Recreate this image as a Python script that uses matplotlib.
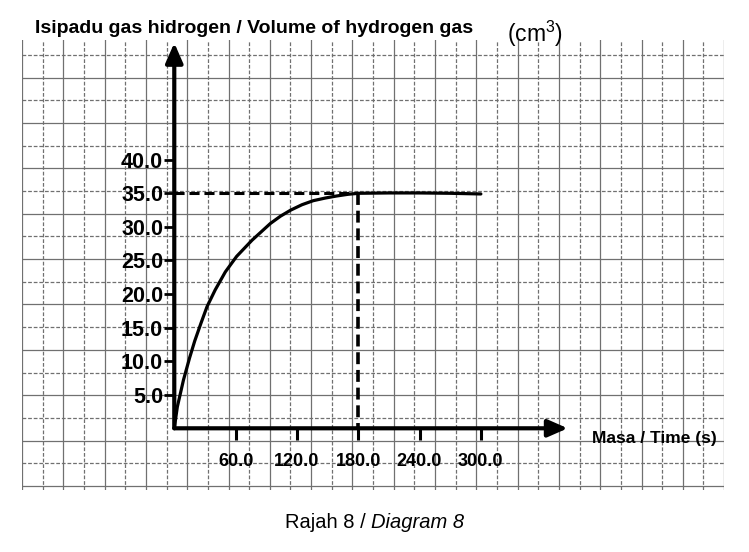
import matplotlib
matplotlib.use('Agg')
import matplotlib.pyplot as plt

plt.rcParams['font.family'] = ['Liberation Sans', 'DejaVu Sans']
plt.rcParams['mathtext.fontset'] = 'custom'
plt.rcParams['mathtext.rm'] = 'Liberation Sans'
plt.rcParams['mathtext.it'] = 'Liberation Sans:italic'

# Data dibaca dari graf (masa dalam s, isipadu dalam cm3)
masa = [0, 3, 9, 15, 20, 26, 32, 40, 50, 61, 76, 94, 104, 114, 125, 136,
        148, 159, 170, 180, 210, 240, 270, 300]
isipadu = [0, 3.2, 7.2, 10.5, 13.0, 15.6, 18.1, 20.6, 23.3, 25.6, 28.0,
           30.5, 31.6, 32.5, 33.3, 33.9, 34.3, 34.6, 34.85, 35.0, 35.05,
           35.05, 35.0, 34.9]
y_ticks = [5, 10, 15, 20, 25, 30, 35, 40]
x_ticks = [60, 120, 180, 240, 300]
masa_akhir = 180
isipadu_akhir = 35

W, H = 749, 552
fig = plt.figure(figsize=(W / 100, H / 100), dpi=100)
ax = fig.add_axes([22 / W, 62 / H, 702 / W, 450 / H])
ax.set_xlim(-149.0, 537.9)
ax.set_ylim(-9.19, 57.83)

# kertas graf
for i in range(35):
    xf = i * 20.65 / 702
    ls = '-' if i % 2 == 0 else (0, (3, 1.5))
    ax.plot([xf, xf], [0, 1], transform=ax.transAxes, color='#707070',
            lw=0.9, ls=ls, zorder=0)
for i in range(20):
    yf = (490 - (55 + i * 22.68)) / 450
    ls = '-' if i % 2 == 1 else (0, (3, 1.5))
    ax.plot([0, 1], [yf, yf], transform=ax.transAxes, color='#707070',
            lw=0.9, ls=ls, zorder=0)

# paksi dengan anak panah
for s in ax.spines.values():
    s.set_visible(False)
ax.spines['left'].set_position(('data', 0))
ax.spines['bottom'].set_position(('data', 0))
arrow = dict(arrowstyle='-|>,head_length=0.8,head_width=0.35', lw=3,
             color='black', mutation_scale=15, shrinkA=0, shrinkB=0)
ax.annotate('', xy=(0, 57.4), xytext=(0, 0), arrowprops=arrow, zorder=3)
ax.annotate('', xy=(385, 0), xytext=(0, 0), arrowprops=arrow, zorder=3)

ax.set_yticks(y_ticks, labels=['{:.1f}'.format(v) for v in y_ticks])
ax.set_xticks(x_ticks, labels=['{:.1f}'.format(v) for v in x_ticks])
ax.tick_params(axis='y', direction='out', length=7, width=2, pad=1,
               labelsize=15.5)
ax.tick_params(axis='x', direction='out', length=8.5, width=2.2, pad=9,
               labelsize=13)
for lab in ax.get_yticklabels() + ax.get_xticklabels():
    lab.set_fontweight('bold')

# lengkung dan garis putus-putus
ax.plot(masa, isipadu, color='black', lw=2.3, solid_capstyle='round',
        solid_joinstyle='round', zorder=4)
ax.plot([0, masa_akhir], [isipadu_akhir, isipadu_akhir], color='black',
        lw=2.2, ls=(0, (3.3, 1.6)), zorder=4)
ax.plot([masa_akhir, masa_akhir], [isipadu_akhir, 0], color='black',
        lw=2.6, ls=(0, (3.3, 1.6)), zorder=4)

# label
fig.text(35 / W, 1 - 33 / H, 'Isipadu gas hidrogen / Volume of hydrogen gas',
         fontsize=14, fontweight='bold', ha='left', va='baseline')
fig.text(507 / W, 1 - 42 / H, '(cm$^3$)', fontsize=16.5, ha='left',
         va='baseline')
fig.text(592 / W, 1 - 438 / H, 'Masa / Time (s)', fontsize=12.5,
         fontweight='bold', ha='left', va='center')
fig.text(371 / W, 1 - 522 / H, 'Rajah 8 / ', fontsize=14.5, ha='right',
         va='center')
fig.text(371 / W, 1 - 522 / H, 'Diagram 8', fontsize=14.5, ha='left',
         va='center', style='italic')

fig.savefig('out.png', dpi=100)
